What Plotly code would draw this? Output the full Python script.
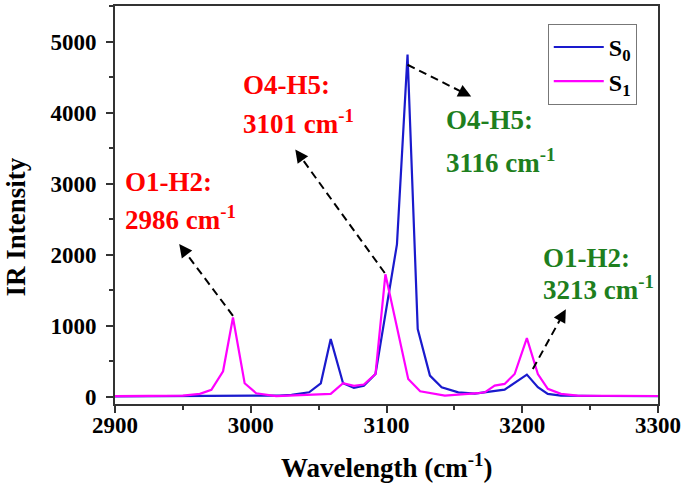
import plotly.graph_objects as go

# ---- data ----
s0_x = [2900, 2960, 3000, 3021, 3030, 3043, 3051.6, 3058.9, 3068, 3076, 3083.3, 3091.9,
        3107.7, 3115.5, 3123, 3132, 3140.6, 3152.9, 3165, 3187, 3203.4, 3211.5, 3218.8,
        3228.5, 3260, 3300]
s0_y = [3, 8, 15, 14, 25, 60, 187, 810, 187, 122, 154, 318,
        2145, 4822, 950, 295, 131, 60, 40, 98, 309, 131, 38,
        14, 8, 5]

s1_x = [2900, 2950, 2962.5, 2971, 2979.6, 2986.9, 2995.5, 3004, 3018.7, 3043, 3058.9,
        3068, 3076, 3083.3, 3091.9, 3099.2, 3116, 3124.8, 3143, 3167.5, 3172.4, 3179.7,
        3187, 3194.4, 3203.4, 3211.5, 3218.8, 3228.5, 3240.7, 3300]
s1_y = [5, 14, 38, 94, 356, 1114, 187, 47, 5, 20, 38,
        187, 150, 170, 318, 1723, 248, 75, 14, 47, 60, 154,
        178, 318, 824, 318, 108, 38, 14, 8]

series_names = ["S<sub>0</sub>", "S<sub>1</sub>"]
series_colors = ["#1A1ACD", "#FF00FF"]

x_ticks = [2900, 3000, 3100, 3200, 3300]
y_ticks = [0, 1000, 2000, 3000, 4000, 5000]

# annotation labels: (text, x-left, y-center, color)
label_text = ["O1-H2:", "2986 cm<sup>-1</sup>", "O4-H5:", "3101 cm<sup>-1</sup>",
              "O4-H5:", "3116 cm<sup>-1</sup>", "O1-H2:", "3213 cm<sup>-1</sup>"]
label_x = [2906, 2906, 2993, 2993, 3142, 3142, 3213.6, 3213.6]
label_y = [3020, 2514, 4396, 3876, 3900, 3315, 1950, 1530]
label_color = ["#FF0000"] * 4 + ["#1E7F1E"] * 4

# arrows: tail (at peak) -> head
arrow_tail_x = [2986.9, 3098.7, 3115.5, 3207.8]
arrow_tail_y = [1138, 1742, 4677, 388]
arrow_head_x = [2947.3, 3032.8, 3162.4, 3232.1]
arrow_head_y = [2149, 3483, 4228, 1231]

# ---- layout geometry ----
W, H = 685, 487
ML, MR, MT, MB = 115, 24, 4, 83
XR = [2900, 3300]
YR = [-105, 5505]
pw = W - ML - MR
ph = H - MT - MB
sx = pw / (XR[1] - XR[0])
sy = ph / (YR[1] - YR[0])

FONT = "Liberation Serif, Times New Roman, serif"

fig = go.Figure()
for xs, ys, nm, col in [(s0_x, s0_y, series_names[0], series_colors[0]),
                        (s1_x, s1_y, series_names[1], series_colors[1])]:
    fig.add_trace(go.Scatter(x=xs, y=ys, mode="lines", name=nm,
                             line=dict(color=col, width=2.2)))

annotations = []
shapes = []
for t, x, y, c in zip(label_text, label_x, label_y, label_color):
    annotations.append(dict(x=x, y=y, xref="x", yref="y", text=t, showarrow=False,
                            xanchor="left", yanchor="middle",
                            font=dict(family=FONT, size=27, color=c, weight="bold")))

for tx, ty, hx, hy in zip(arrow_tail_x, arrow_tail_y, arrow_head_x, arrow_head_y):
    dxp = (tx - hx) * sx
    dyp = -(ty - hy) * sy
    L = (dxp ** 2 + dyp ** 2) ** 0.5
    ux, uy = dxp / L, dyp / L
    ex = hx + (ux * 8) / sx
    ey = hy - (uy * 8) / sy
    shapes.append(dict(type="line", xref="x", yref="y", x0=tx, y0=ty, x1=ex, y1=ey,
                       line=dict(color="black", width=2, dash="8px,5px")))
    annotations.append(dict(x=hx, y=hy, xref="x", yref="y", text=" ", showarrow=True,
                            ax=ux * 12, ay=uy * 12, arrowhead=2, arrowsize=1.3,
                            arrowwidth=2, arrowcolor="black", standoff=0,
                            font=dict(size=2)))

annotations.append(dict(x=0.5, y=-0.155, xref="paper", yref="paper", showarrow=False,
                        text="Wavelength (cm<sup>-1</sup>)", xanchor="center", yanchor="middle",
                        font=dict(family=FONT, size=27, color="black", weight="bold")))
annotations.append(dict(x=-0.183, y=0.445, xref="paper", yref="paper", showarrow=False,
                        text="IR Intensity", textangle=-90, xanchor="center", yanchor="middle",
                        font=dict(family=FONT, size=27, color="black", weight="bold")))

axis_common = dict(showline=True, linecolor="#333333", linewidth=2, mirror=True,
                   ticks="outside", ticklen=7, tickwidth=2, tickcolor="#333333",
                   showgrid=False, zeroline=False,
                   tickfont=dict(family=FONT, size=23, color="black", weight="bold"))

fig.update_layout(
    width=W, height=H,
    margin=dict(l=ML, r=MR, t=MT, b=MB),
    paper_bgcolor="white", plot_bgcolor="white",
    showlegend=True,
    legend=dict(x=0.797, y=0.955, xanchor="left", yanchor="top",
                bordercolor="#777777", borderwidth=1, bgcolor="white",
                font=dict(family=FONT, size=24, color="black", weight="bold"),
                tracegroupgap=0, itemwidth=50),
    xaxis=dict(range=XR, tickvals=x_ticks,
               minor=dict(dtick=50, ticklen=4, tickwidth=2, ticks="outside", tickcolor="#333333"),
               ticklabelstandoff=-8, **axis_common),
    yaxis=dict(range=YR, tickvals=y_ticks,
               minor=dict(dtick=500, ticklen=4, tickwidth=2, ticks="outside", tickcolor="#333333"),
               ticklabelstandoff=5, **axis_common),
    annotations=annotations,
    shapes=shapes,
)

fig.write_html("out.html", config={"displayModeBar": False},
               post_script="document.body.style.margin='0px';document.body.style.padding='0px';")
